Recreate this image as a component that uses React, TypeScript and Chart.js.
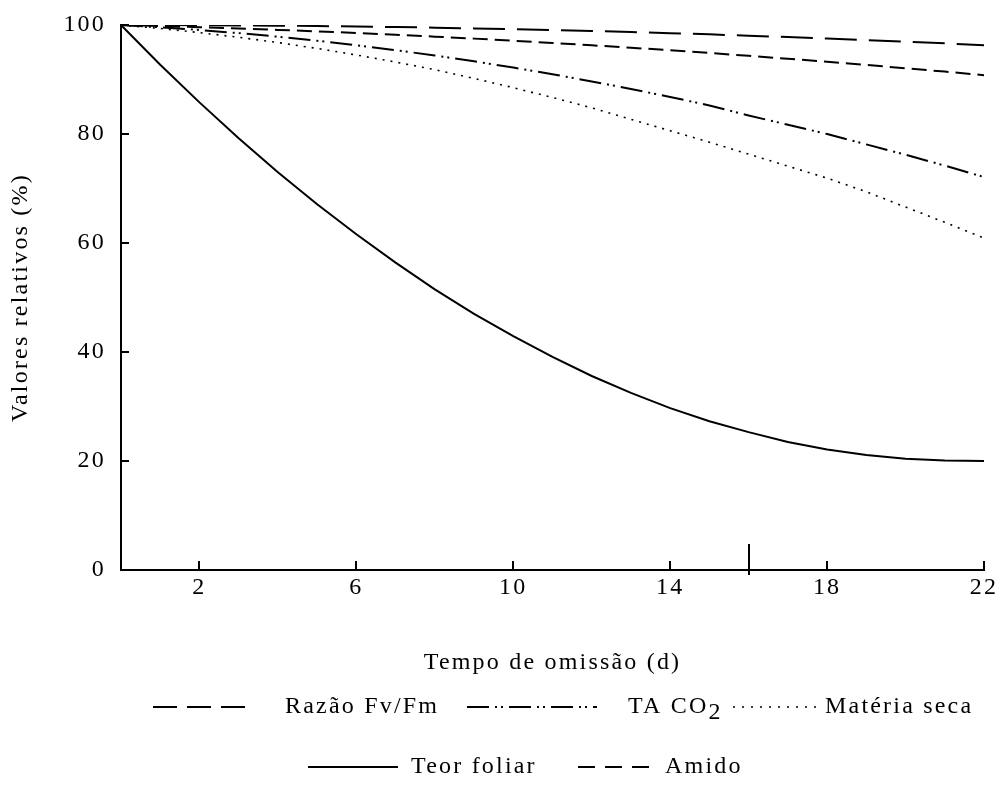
import React, { useEffect, useRef } from "react";
import { Chart, registerables } from "chart.js";

Chart.register(...registerables);

// ---- Data ----
const days = [0, 1, 2, 3, 4, 5, 6, 7, 8, 9, 10, 11, 12, 13, 14, 15, 16, 17, 18, 19, 20, 21, 22];
const razaoFvFm = [100, 100, 99.97, 99.93, 99.88, 99.81, 99.72, 99.63, 99.51, 99.38, 99.24, 99.08, 98.9, 98.71, 98.5, 98.28, 98.04, 97.79, 97.52, 97.24, 96.94, 96.63, 96.3];
const taCO2 = [100, 99.58, 99.09, 98.51, 97.85, 97.11, 96.29, 95.38, 94.4, 93.34, 92.19, 90.96, 89.65, 88.27, 86.79, 85.24, 83.4, 81.7, 80.0, 78.1, 76.2, 74.2, 72.1];
const materiaSeca = [100, 99.36, 98.6, 97.74, 96.78, 95.7, 94.5, 93.2, 91.8, 90.2, 88.5, 86.7, 84.8, 82.7, 80.6, 78.5, 76.3, 74.1, 71.9, 69.4, 66.6, 63.8, 60.9];
const teorFoliar = [100, 92.7, 85.8, 79.2, 73.0, 67.1, 61.6, 56.4, 51.5, 47.0, 42.9, 39.1, 35.6, 32.5, 29.7, 27.3, 25.3, 23.5, 22.1, 21.1, 20.4, 20.1, 20.0];
const amido = [100, 99.81, 99.59, 99.36, 99.1, 98.83, 98.53, 98.21, 97.86, 97.5, 97.11, 96.71, 96.28, 95.83, 95.36, 94.86, 94.35, 93.81, 93.25, 92.67, 92.07, 91.45, 90.8];

const seriesNames = ["Razão Fv/Fm", "TA CO2", "Matéria seca", "Teor foliar", "Amido"];
const xTicks = [2, 6, 10, 14, 18, 22];
const yTicks = [0, 20, 40, 60, 80, 100];
const markerTick = 16;
const xTitle = "Tempo de omissão (d)";
const yTitle = "Valores relativos (%)";

// ---- Styles ----
const FONT_FAMILY = "'Liberation Serif', 'DejaVu Serif', serif";
const FONT_SIZE = 24;
const LETTER_SPACING = "2.2px";

const seriesStyles = [
  { dash: [32, 12], width: 2, legendDash: [24, 10] },
  { dash: [22, 6, 2, 4, 2, 6], width: 2, legendDash: [22, 6, 2, 4, 2, 6] },
  { dash: [2, 6], width: 1.6, legendDash: [2, 7] },
  { dash: [], width: 2, legendDash: [] },
  { dash: [15, 7], width: 2, legendDash: [17, 10] },
];

// legend layout (canvas coordinates)
const legendLayout = [
  { x0: 153, x1: 245, tx: 285, y: 707 },
  { x0: 467, x1: 597, tx: 628, y: 707 },
  { x0: 733, x1: 818, tx: 825, y: 707 },
  { x0: 308, x1: 398, tx: 411, y: 767 },
  { x0: 578, x1: 650, tx: 665, y: 767 },
];

const seriesValues = [razaoFvFm, taCO2, materiaSeca, teorFoliar, amido];

const customDraw = {
  id: "customDraw",
  beforeDraw(chart: any) {
    chart.ctx.letterSpacing = LETTER_SPACING;
  },
  afterDraw(chart: any) {
    const ctx = chart.ctx;
    const { left, bottom } = chart.chartArea;
    const xs = chart.scales.x;
    const ys = chart.scales.y;
    ctx.save();
    ctx.strokeStyle = "#000";
    ctx.lineWidth = 2;
    ctx.setLineDash([]);
    ctx.beginPath();
    for (const v of yTicks) {
      if (v === 0) continue;
      const py = Math.round(ys.getPixelForValue(v));
      ctx.moveTo(left, py);
      ctx.lineTo(left + 8, py);
    }
    for (const v of xTicks) {
      const px = Math.round(xs.getPixelForValue(v));
      ctx.moveTo(px, bottom);
      ctx.lineTo(px, bottom - 9);
    }
    const mx = Math.round(xs.getPixelForValue(markerTick));
    ctx.moveTo(mx, bottom + 5);
    ctx.lineTo(mx, bottom - 26);
    ctx.stroke();

    // legend
    ctx.letterSpacing = LETTER_SPACING;
    ctx.font = `${FONT_SIZE}px ${FONT_FAMILY}`;
    ctx.fillStyle = "#000";
    ctx.textBaseline = "middle";
    ctx.textAlign = "left";
    chart.data.datasets.forEach((ds: any, i: number) => {
      const L = legendLayout[i];
      const st = seriesStyles[i];
      ctx.beginPath();
      ctx.lineWidth = st.width;
      ctx.setLineDash(st.legendDash);
      ctx.moveTo(L.x0, L.y);
      ctx.lineTo(L.x1, L.y);
      ctx.stroke();
      ctx.setLineDash([]);
      const label: string = ds.label;
      if (label === "TA CO2") {
        const base = "TA CO";
        ctx.fillText(base, L.tx, L.y);
        const w = ctx.measureText(base).width;
        ctx.fillText("2", L.tx + w, L.y + 6);
      } else {
        ctx.fillText(label, L.tx, L.y);
      }
    });
    ctx.restore();
  },
};

export default function App() {
  const ref = useRef<HTMLCanvasElement | null>(null);
  useEffect(() => {
    if (!ref.current) return;
    const font = { family: FONT_FAMILY, size: FONT_SIZE };
    const chart = new Chart(ref.current, {
      type: "line",
      data: {
        datasets: seriesValues.map((vals, i) => ({
          label: seriesNames[i],
          data: days.map((d, j) => ({ x: d, y: vals[j] })),
          borderColor: "#000",
          borderWidth: seriesStyles[i].width,
          borderDash: seriesStyles[i].dash,
          pointRadius: 0,
          fill: false,
          tension: 0,
        })),
      },
      options: {
        animation: false,
        responsive: true,
        maintainAspectRatio: false,
        layout: { padding: { left: 0, right: 18, top: 25, bottom: 125 } },
        plugins: { legend: { display: false }, tooltip: { enabled: false } },
        scales: {
          x: {
            type: "linear",
            min: 0,
            max: 22,
            afterBuildTicks: (s: any) => {
              s.ticks = xTicks.map((v) => ({ value: v }));
            },
            ticks: { color: "#000", font, padding: 3, maxRotation: 0, autoSkip: false },
            grid: { display: false, drawTicks: false },
            border: { display: true, color: "#000", width: 2 },
            title: { display: true, text: xTitle, color: "#000", font, padding: { top: 0, bottom: 3 } },
            afterFit: (s: any) => {
              s.height = 110;
              s.paddingLeft = 0;
              s.paddingRight = 0;
            },
          },
          y: {
            type: "linear",
            min: 0,
            max: 100,
            afterBuildTicks: (s: any) => {
              s.ticks = yTicks.map((v) => ({ value: v }));
            },
            ticks: { color: "#000", font, padding: 15 },
            grid: { display: false, drawTicks: false },
            border: { display: true, color: "#000", width: 2 },
            title: { display: true, text: yTitle, color: "#000", font, padding: { top: 6, bottom: 0 } },
            afterFit: (s: any) => {
              s.width = 121;
              s.paddingTop = 0;
              s.paddingBottom = 0;
            },
          },
        },
      },
      plugins: [customDraw],
    } as any);
    return () => chart.destroy();
  }, []);
  return (
    <div style={{ position: "fixed", left: 0, top: 0, width: 1002, height: 805, background: "#fff" }}>
      <canvas ref={ref} />
    </div>
  );
}
